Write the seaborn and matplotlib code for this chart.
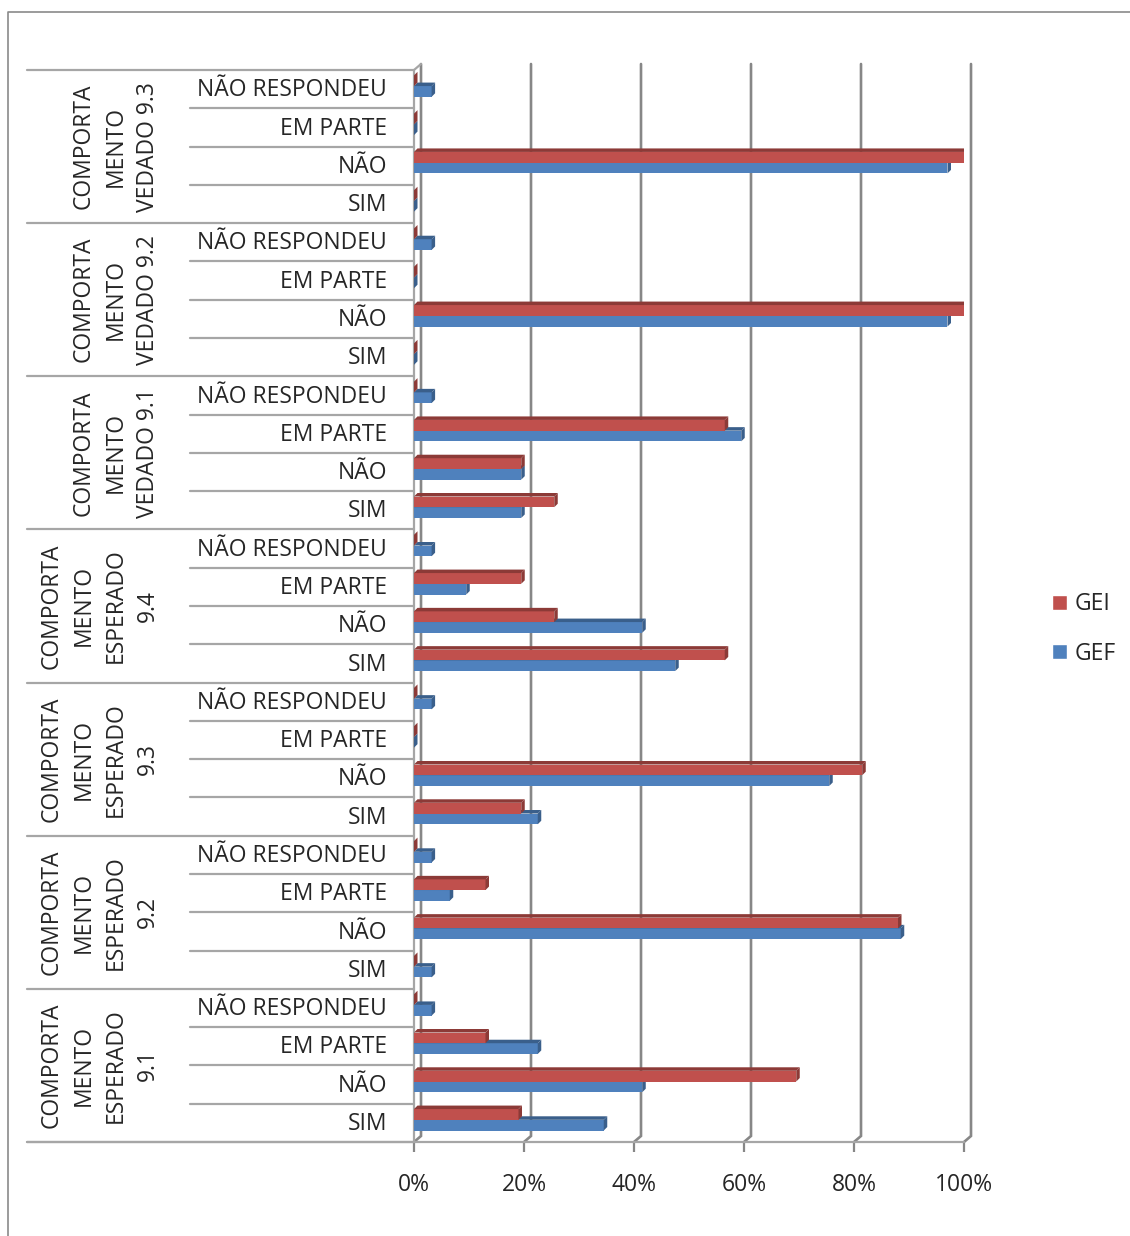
import numpy as np
import pandas as pd
import matplotlib
matplotlib.use("Agg")
import matplotlib.pyplot as plt
from matplotlib.patches import Polygon
from matplotlib.lines import Line2D
import seaborn as sns

sns.set_style("white")
plt.rcParams["font.family"] = ["Open Sans", "DejaVu Sans"]

# --- data (top to bottom, as shown in the chart) ---
groups = [
    "COMPORTA\nMENTO\nVEDADO 9.3",
    "COMPORTA\nMENTO\nVEDADO 9.2",
    "COMPORTA\nMENTO\nVEDADO 9.1",
    "COMPORTA\nMENTO\nESPERADO\n9.4",
    "COMPORTA\nMENTO\nESPERADO\n9.3",
    "COMPORTA\nMENTO\nESPERADO\n9.2",
    "COMPORTA\nMENTO\nESPERADO\n9.1",
]
responses = ["NÃO RESPONDEU", "EM PARTE", "NÃO", "SIM"]

gei = [
    [0, 0, 100, 0],
    [0, 0, 100, 0],
    [0, 56.5, 19.5, 25.5],
    [0, 19.5, 25.5, 56.5],
    [0, 0, 81.5, 19.5],
    [0, 13, 88, 0],
    [0, 13, 69.5, 19],
]
gef = [
    [3.2, 0, 97, 0],
    [3.2, 0, 97, 0],
    [3.2, 59.5, 19.5, 19.5],
    [3.2, 9.5, 41.5, 47.5],
    [3.2, 0, 75.5, 22.5],
    [3.2, 6.5, 88.5, 3.2],
    [3.2, 22.5, 41.5, 34.5],
]
series = ["GEI", "GEF"]
x_ticks = [0, 20, 40, 60, 80, 100]

# --- long table for seaborn ---
rows = []
for g, grp in enumerate(groups):
    for r, resp in enumerate(responses):
        key = f"{g}|{resp}"
        rows.append({"row": key, "serie": "GEI", "valor": gei[g][r]})
        rows.append({"row": key, "serie": "GEF", "valor": gef[g][r]})
df = pd.DataFrame(rows)
order = list(dict.fromkeys(df["row"]))
n_rows = len(order)

red = "#C0504D"
blue = "#4F81BD"
dark = {red: "#8C3A37", blue: "#3A5F8B"}
grid_c = "#878787"
sep_c = "#A6A6A6"
fs = 16.5

fig = plt.figure(figsize=(11.30, 12.36), dpi=100)
ax = fig.add_axes([414 / 1130, 1 - 1142 / 1236, 550 / 1130, 1072 / 1236])

sns.barplot(data=df, y="row", x="valor", hue="serie", hue_order=series,
            order=order, palette=[red, blue], width=0.56, orient="h",
            errorbar=None, saturation=1, ax=ax, zorder=3)

ax.set_xlim(0, 100)
ax.set_ylim(n_rows - 0.5, -0.5)
ax.set_xlabel("")
ax.set_ylabel("")
ax.set_yticks([])
for s in ax.spines.values():
    s.set_visible(False)

# pixel -> data conversions for the fake 3D depth
px_x = 100 / 550
px_y = n_rows / 1072

# --- 3D faces on the bars ---
bdx, bdy = 3.5 * px_x, 3.5 * px_y
for p in ax.patches:
    p.set_y(p.get_y() - 0.08)
    col = matplotlib.colors.to_hex(p.get_facecolor())
    if col not in (red.lower(), blue.lower()):
        continue
    z = 4 if col == red.lower() else 2
    p.set_zorder(z)
    p.set_edgecolor("none")
    w = p.get_width()
    y0 = p.get_y()
    h = p.get_height()
    dc = dark[red] if col == red.lower() else dark[blue]
    top = Polygon([(0, y0), (w, y0), (w + bdx, y0 - bdy), (bdx, y0 - bdy)],
                  closed=True, facecolor=dc, edgecolor="none", zorder=z + 0.5)
    side = Polygon([(w, y0), (w, y0 + h), (w + bdx, y0 + h - bdy), (w + bdx, y0 - bdy)],
                   closed=True, facecolor=dc, edgecolor="none", zorder=z + 0.5)
    ax.add_patch(top)
    ax.add_patch(side)

# --- back wall gridlines ---
wdx, wdy = 7 * px_x, 6 * px_y
y_bot, y_top = n_rows - 0.5, -0.5
for v in x_ticks:
    ax.plot([v, v + wdx, v + wdx], [y_bot, y_bot - wdy, y_top - wdy],
            color=grid_c, lw=1.9, zorder=1, clip_on=False, solid_joinstyle="miter")
# left wall front edge
ax.plot([0, 0, wdx], [y_bot, y_top, y_top - wdy], color=sep_c, lw=1.6,
        zorder=1, clip_on=False)

# --- category separators and labels ---
yt = ax.get_yaxis_transform()
for i in range(n_rows + 1):
    b = i - 0.5
    x_start = -0.703 if i % 4 == 0 else -0.407
    ax.plot([x_start, 0], [b, b], color=sep_c, lw=1.6, transform=yt,
            clip_on=False, zorder=1)
ax.plot([-0.703, 1.0], [y_bot, y_bot], color=sep_c, lw=1.6, transform=yt,
        clip_on=False, zorder=1)

for i, key in enumerate(order):
    ax.text(-0.049, i + 0.03, key.split("|")[1], transform=yt, ha="right",
            va="center", fontsize=fs)

for g, grp in enumerate(groups):
    xc = -0.542 if "VEDADO" in grp else -0.572
    ax.text(xc, g * 4 + 1.5, grp, transform=yt, rotation=90, ha="center",
            va="center", multialignment="center", fontsize=fs, linespacing=1.45)

# --- x axis ticks ---
ax.set_xticks(x_ticks)
ax.set_xticklabels([f"{v}%" for v in x_ticks], fontsize=fs)
ax.tick_params(axis="x", length=7, width=1.6, color=grid_c, pad=15, bottom=True)

# --- legend ---
sns.move_legend(ax, loc="center left", bbox_to_anchor=(1031 / 1130, 1 - 629 / 1236),
                bbox_transform=fig.transFigure, frameon=False, title=None,
                handlelength=0.65, handleheight=0.65, handletextpad=0.35,
                labelspacing=1.1, fontsize=fs)

# --- outer border ---
fig.add_artist(Line2D([8 / 1130, 8 / 1130, 1], [0, 1 - 12 / 1236, 1 - 12 / 1236],
                      transform=fig.transFigure, color="#8A8A8A", lw=1.2))

fig.savefig("out.png", dpi=100)
